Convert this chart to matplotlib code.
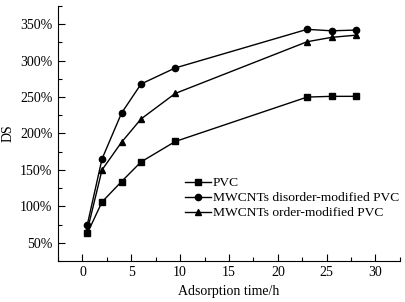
import matplotlib
matplotlib.use('Agg')
import matplotlib.pyplot as plt
from matplotlib.ticker import MultipleLocator, FuncFormatter

plt.rcParams['font.family'] = 'Liberation Serif'
plt.rcParams['font.size'] = 10

# adsorption time (h)
t = [0.5, 2, 4, 6, 9.5, 23, 25.5, 28]
pvc = [63, 106, 134, 161, 189, 250, 251, 251]
disorder = [75, 165, 228, 268, 290, 343, 341, 342]
order = [67, 150, 188, 220, 255, 326, 332, 335]

fig = plt.figure(figsize=(4.06, 3.02), dpi=100)
ax = fig.add_axes([0.143, 0.136, 0.842, 0.844])

ax.plot(t, pvc, 'k-s', lw=1, ms=4.5, label='PVC')
ax.plot(t, disorder, 'k-o', lw=1, ms=4.5, label='MWCNTs disorder-modified PVC')
ax.plot(t, order, 'k-^', lw=1, ms=4.5, label='MWCNTs order-modified PVC')

ax.set_xlim(-2.5, 32.5)
ax.set_ylim(25, 375)
ax.xaxis.set_major_locator(MultipleLocator(5))
ax.xaxis.set_minor_locator(MultipleLocator(2.5))
ax.yaxis.set_major_locator(MultipleLocator(50))
ax.yaxis.set_minor_locator(MultipleLocator(25))
ax.yaxis.set_major_formatter(FuncFormatter(lambda v, p: '%d%%' % v))

ax.spines['top'].set_visible(False)
ax.spines['right'].set_visible(False)
ax.tick_params(which='both', direction='in', width=0.8)
ax.tick_params(which='major', length=5, pad=4)
ax.tick_params(which='minor', length=3)

ax.set_xlabel('Adsorption time/h', labelpad=4)
ax.set_ylabel('DS', labelpad=4)

ax.legend(frameon=False, loc='upper left', bbox_to_anchor=(0.37, 0.33),
          handlelength=1.95, handletextpad=0.15, labelspacing=0.2, borderpad=0,
          borderaxespad=0, fontsize=9.7)

fig.savefig('out.png', dpi=100)
